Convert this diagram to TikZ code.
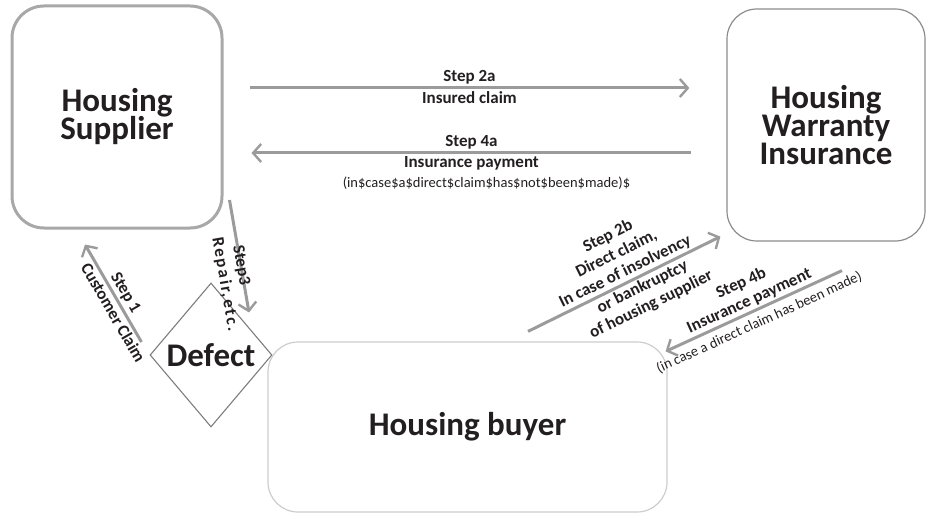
\documentclass[tikz,border=0pt]{standalone}
\usepackage{fontspec}
\setmainfont{Carlito}
\usepackage{tikz}
\usetikzlibrary{arrows.meta, shapes.geometric}
\definecolor{textdark}{RGB}{35,31,32}
\definecolor{suppliergray}{RGB}{168,168,168}
\definecolor{insurergray}{RGB}{140,140,140}
\definecolor{buyergray}{RGB}{205,205,205}
\definecolor{defectgray}{RGB}{125,125,125}
\definecolor{arrowgray}{RGB}{155,155,155}
\newcommand{\partyfont}{\fontsize{33}{28}\selectfont\bfseries\lineskiplimit=-20pt}
\newcommand{\stepfont}{\fontsize{17}{19.5}\selectfont\bfseries}
\newcommand{\remarkfont}{\fontsize{14.5}{19.5}\selectfont\mdseries}
\tikzset{
  party/.style={
    rectangle,
    rounded corners=32pt,
    align=center,
    inner sep=0pt,
    font=\partyfont,
    text=textdark
  },
  defectbox/.style={
    diamond,
    draw=defectgray,
    line width=1.1pt,
    inner sep=0pt,
    font=\partyfont,
    text=textdark
  },
  flow/.style={
    draw=arrowgray,
    line width=3pt,
    -{Straight Barb[length=8pt, width=18pt, line width=2.4pt]}
  },
  steptext/.style={
    font=\stepfont,
    align=center,
    text=textdark,
    sloped,
    inner sep=2pt
  }
}

\begin{document}
\begin{tikzpicture}[x=1pt, y=-1pt]
  \useasboundingbox (0,0) rectangle (926,513);
  \node (supplier) [party, draw=suppliergray, line width=3pt,
    minimum width=210pt, minimum height=222pt] at (117,117) {Housing\\Supplier};
  \node (warranty) [party, draw=insurergray, line width=1.2pt, rounded corners=30pt,
    minimum width=198pt, minimum height=232pt] at (826,125) {Housing\\Warranty\\Insurance};
  \node (buyer) [party, draw=buyergray, line width=1.2pt, rounded corners=30pt,
    minimum width=399pt, minimum height=170pt] at (467.5,427) {Housing buyer};
  \node (defect) [defectbox, minimum width=122pt, minimum height=144pt] at (211,355) {Defect};
  \draw [flow] ([xshift=26pt, yshift=29pt]supplier.east) --
    node [steptext, above] {Step 2a}
    node [steptext, below] {Insured claim}
    ([xshift=-37pt, yshift=37pt]warranty.west);
  \draw [flow] ([xshift=-35pt, yshift=-28pt]warranty.west) --
    node [steptext, above] {Step 4a}
    node [steptext, below] {Insurance payment\\{\remarkfont\hspace*{30pt}(in\$case\$a\$direct\$claim\$has\$not\$been\$made)\$}}
    ([xshift=28pt, yshift=-36pt]supplier.east);
  \draw [flow] ([xshift=-8pt, yshift=13pt]defect.west) --
    node [steptext, above, pos=0.45] {Step 1}
    node [steptext, below, pos=0.35] {Customer Claim}
    ([xshift=-32pt, yshift=-15pt]supplier.south);
  \draw [flow] ([xshift=6pt, yshift=-83pt]supplier.east) --
    node [steptext, pos=0.58] {Step3}
    node [steptext, below=8pt, pos=0.72] {\addfontfeature{LetterSpace=12}Repair,etc.}
    ([xshift=38pt, yshift=-30pt]defect.north);
  \draw [flow] ([xshift=60.5pt, yshift=10pt]buyer.north) --
    node [steptext, above, pos=0.53] {Step 2b\\Direct claim,\\In case of insolvency}
    node [steptext, below, pos=0.57] {or bankruptcy\\of housing supplier}
    ([xshift=-6pt, yshift=5pt]warranty.south west);
  \draw [flow] ([xshift=16pt, yshift=-29pt]warranty.south) --
    node [steptext, above] {Step 4b\\Insurance payment}
    node [steptext, below=3pt, font=\remarkfont] {(in case a direct claim has been made)}
    ([xshift=-2pt, yshift=-10pt]buyer.north east);
\end{tikzpicture}
\end{document}
